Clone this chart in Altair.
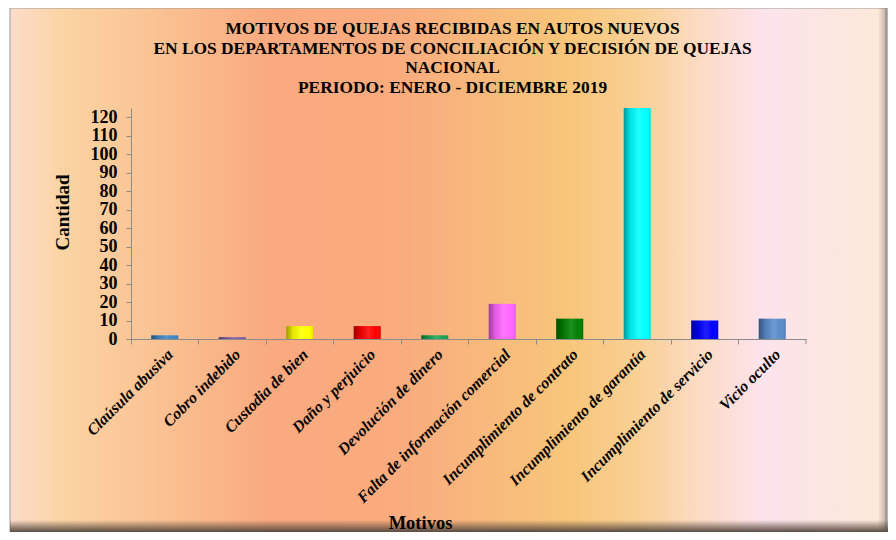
import altair as alt
import pandas as pd

motivos = [
    "Claúsula abusiva", "Cobro indebido", "Custodia de bien", "Daño y perjuicio",
    "Devolución de dinero", "Falta de información comercial",
    "Incumplimiento de contrato", "Incumplimiento de garantía",
    "Incumplimiento de servicio", "Vicio oculto",
]
cantidad = [2, 1, 7, 7, 2, 19, 11, 125, 10, 11]
colores = ["#3E86C8", "#7E5AA8", "#FFFF00", "#FF0000", "#1BA350",
           "#FF66FF", "#008000", "#00FFFF", "#0000FF", "#5A8CCB"]
y_ticks = list(range(0, 121, 10))
titulo = [
    "MOTIVOS DE QUEJAS RECIBIDAS EN AUTOS NUEVOS",
    "EN LOS DEPARTAMENTOS DE CONCILIACIÓN Y DECISIÓN DE QUEJAS",
    "NACIONAL",
    "PERIODO: ENERO - DICIEMBRE  2019",
]

df = pd.DataFrame({"Motivo": motivos, "Cantidad": cantidad, "Color": colores})

W, H = 675, 231
FONT = "Liberation Serif"

one = alt.Data(values=[{}])

bg_grad = alt.LinearGradient(
    gradient="linear", x1=0, x2=1, y1=0, y2=0,
    stops=[
        alt.GradientStop(color="#FCDCCB", offset=0.0),
        alt.GradientStop(color="#FBD4A4", offset=0.06),
        alt.GradientStop(color="#FAC091", offset=0.18),
        alt.GradientStop(color="#F9A97E", offset=0.30),
        alt.GradientStop(color="#F9AC7E", offset=0.45),
        alt.GradientStop(color="#F8BE7B", offset=0.58),
        alt.GradientStop(color="#F8C67B", offset=0.64),
        alt.GradientStop(color="#F9D096", offset=0.72),
        alt.GradientStop(color="#FCDCC6", offset=0.79),
        alt.GradientStop(color="#FDE3EC", offset=0.86),
        alt.GradientStop(color="#FCEAD8", offset=1.0),
    ],
)

background = alt.Chart(one).mark_rect(
    color=bg_grad, stroke="#9A9A9A", strokeWidth=1
).encode(
    x=alt.value(-121), x2=alt.value(755),
    y=alt.value(-100), y2=alt.value(424),
)

bottom_shadow = alt.Chart(one).mark_rect(
    color=alt.LinearGradient(
        gradient="linear", x1=0, x2=0, y1=0, y2=1,
        stops=[
            alt.GradientStop(color="rgba(90,75,65,0)", offset=0.0),
            alt.GradientStop(color="rgba(90,75,65,0.6)", offset=0.6),
            alt.GradientStop(color="rgba(80,70,62,0.95)", offset=1.0),
        ],
    )
).encode(
    x=alt.value(-121), x2=alt.value(757),
    y=alt.value(412), y2=alt.value(424),
)

right_shadow = alt.Chart(one).mark_rect(
    color=alt.LinearGradient(
        gradient="linear", x1=0, x2=1, y1=0, y2=0,
        stops=[
            alt.GradientStop(color="rgba(90,75,65,0)", offset=0.0),
            alt.GradientStop(color="rgba(90,75,65,0.45)", offset=1.0),
        ],
    )
).encode(
    x=alt.value(747), x2=alt.value(757),
    y=alt.value(-100), y2=alt.value(424),
)

x_enc = alt.X(
    "Motivo:N", sort=motivos, title="Motivos",
    scale=alt.Scale(paddingInner=0, paddingOuter=0),
    axis=alt.Axis(
        zindex=2,
        bandPosition=0, domainColor="#8C8C8C", tickColor="#8C8C8C",
        tickSize=5, labelAngle=-45, labelAlign="right", labelBaseline="top",
        labelFont=FONT, labelFontSize=16, labelFontWeight="bold",
        labelFontStyle="italic", labelColor="black", labelPadding=2,
        labelOverlap=False, labelLimit=0,
        titleFont=FONT, titleFontSize=18.5, titleFontWeight="bold",
        titleColor="black", titleX=289, titleY=183, titleBaseline="middle",
        titleAlign="center",
    ),
)
y_enc = alt.Y(
    "Cantidad:Q", title="Cantidad",
    scale=alt.Scale(domain=[0, 125], nice=False),
    axis=alt.Axis(
        zindex=2, labelOverlap=False,
        values=y_ticks, grid=False, domainColor="#8C8C8C", tickColor="#8C8C8C",
        tickSize=5, labelFont=FONT, labelFontSize=18, labelFontWeight="bold",
        labelColor="black", labelPadding=9,
        titleFont=FONT, titleFontSize=19, titleFontWeight="bold",
        titleColor="black", titleX=-69, titleY=104, titleBaseline="middle",
        titleAlign="center", titleAngle=270,
    ),
)

bars = alt.Chart(df).mark_bar(size=27, clip=True).encode(
    x=x_enc, y=y_enc,
    color=alt.Color("Color:N", scale=None, legend=None),
)

shade = alt.Chart(df).mark_bar(
    size=27, clip=True,
    color=alt.LinearGradient(
        gradient="linear", x1=0, x2=1, y1=0, y2=0,
        stops=[
            alt.GradientStop(color="rgba(0,0,0,0.40)", offset=0.0),
            alt.GradientStop(color="rgba(0,0,0,0.10)", offset=0.25),
            alt.GradientStop(color="rgba(255,255,255,0.12)", offset=0.55),
            alt.GradientStop(color="rgba(255,255,255,0.0)", offset=0.8),
            alt.GradientStop(color="rgba(0,0,0,0.12)", offset=1.0),
        ],
    ),
).encode(x=x_enc, y=y_enc)

end_tick = alt.Chart(one).mark_rule(color="#8C8C8C").encode(
    x=alt.value(W), y=alt.value(H), y2=alt.value(H + 5)
)

chart = alt.layer(
    background, bars, shade, end_tick, bottom_shadow, right_shadow
).properties(
    width=W, height=H,
    autosize=alt.AutoSizeParams(type="none"),
    padding={"left": 123, "top": 100, "right": 82, "bottom": 193},
    title=alt.TitleParams(
        text=titulo, font=FONT, fontSize=17.4, fontWeight="bold", color="black",
        lineHeight=19.6, anchor="middle", dx=-16, offset=0, dy=107,
        baseline="bottom",
    ),
).configure_view(stroke=None).configure(background="white")

chart.save("out.html", embed_options={"renderer": "svg", "actions": False})
